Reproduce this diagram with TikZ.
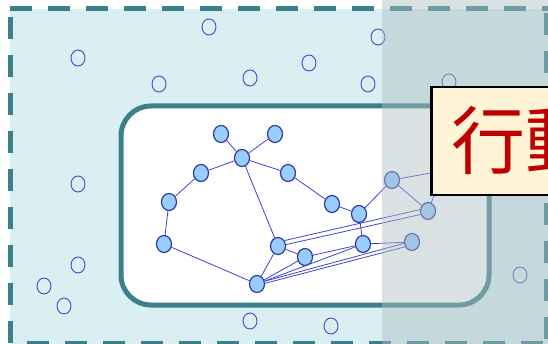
\documentclass[tikz,border=0pt]{standalone}
\usepackage{fontspec}
\newfontfamily\cjk{Noto Sans CJK JP}
\usepackage{tikz}
\usetikzlibrary{shapes.geometric}

\definecolor{frame}{HTML}{3A8189}
\definecolor{zone}{HTML}{DAEFF2}
\definecolor{ring}{HTML}{4646CC}
\definecolor{vfill}{HTML}{99CCFF}
\definecolor{vline}{HTML}{2C3A9E}
\definecolor{linkblue}{HTML}{4242D2}
\definecolor{veil}{RGB}{174,190,194}
\definecolor{note}{HTML}{FFF5D6}
\definecolor{notered}{HTML}{C00000}

\tikzset{
  hollow/.style={ellipse, draw=ring, line width=0.9pt,
    minimum width=14pt, minimum height=16pt, inner sep=0pt},
  vert/.style={ellipse, draw=vline, fill=vfill, line width=1.2pt,
    minimum width=15pt, minimum height=17pt, inner sep=0pt},
  link/.style={draw=linkblue, line width=0.8pt},
  border/.style={draw=frame, line width=5pt, dash pattern=on 22pt off 16pt},
}

\begin{document}
\begin{tikzpicture}[x=1pt, y=-1pt]

\clip (0,0) rectangle (548,344);
\fill[white] (0,0) rectangle (548,344);

% outer zone
\fill[zone] (10,9) rectangle (548,344);
\draw[border] (10,9) -- (548,9);
\draw[border] (10,17) -- (10,344);
\draw[border] (546,13) -- (546,344);
\draw[border] (27,343.5) -- (548,343.5);

\node[hollow] (c1) at (209,27) {};
\node[hollow] (c2) at (78,58) {};
\node[hollow] (c3) at (378,37) {};
\node[hollow] (c4) at (159,84) {};
\node[hollow] (c5) at (250,78) {};
\node[hollow] (c6) at (309,63) {};
\node[hollow] (c7) at (368,84) {};
\node[hollow] (c8) at (449,82) {};
\node[hollow] (c9) at (78,184) {};
\node[hollow] (c10) at (78,265) {};
\node[hollow] (c11) at (44,286) {};
\node[hollow] (c12) at (64,306) {};
\node[hollow] (c13) at (250,321) {};
\node[hollow] (c14) at (331,326) {};
\node[hollow] (c15) at (520,275) {};

% inner zone
\draw[frame, line width=5pt, fill=white, rounded corners=30pt]
  (121,106) rectangle (489,305);

% the network
\coordinate (h1) at (470,166);
\coordinate (h2) at (437,188);

\node[vert] (v1) at (221,134) {};
\node[vert] (v2) at (275,134) {};
\node[vert] (v3) at (242,158) {};
\node[vert] (v4) at (201,173) {};
\node[vert] (v5) at (288,173) {};
\node[vert] (v6) at (169,202) {};
\node[vert] (v7) at (164,244) {};
\node[vert] (v8) at (278,246) {};
\node[vert] (v9) at (257,284) {};
\node[vert] (v10) at (332,204) {};
\node[vert] (v11) at (359,214) {};
\node[vert] (v12) at (392,180) {};
\node[vert] (v13) at (428,211) {};
\node[vert] (v14) at (363,244) {};
\node[vert] (v15) at (412,242) {};
\node[vert] (v16) at (305,257) {};

\draw[link] (v1) -- (v3);
\draw[link] (v2) -- (v3);
\draw[link] (v3) -- (v4);
\draw[link] (v3) -- (v5);
\draw[link] (v4) -- (v6);
\draw[link] (v6) -- (v7);
\draw[link] (v7) -- (v9);
\draw[link] (v3) -- (v8);
\draw[link] (v8) -- (v9);
\draw[link] (v5) -- (v10);
\draw[link] (v10) -- (v11);
\draw[link] (v11) -- (v12);
\draw[link] (v11) -- (v14);
\draw[link] (v12) -- (v13);
\draw[link] (v12) -- (h1);
\draw[link] (v13) -- (h2);
\draw[link] (v8.40) -- (v13.170);
\draw[link] (v8.10) -- (v13.205);
\draw[link] (v8) -- (v16);
\draw[link] (v9) -- (v16);
\draw[link] (v9) -- (v14);
\draw[link] (v9.20) -- (v15.190);
\draw[link] (v9.5) -- (v15.215);
\draw[link] (v16) -- (v14);
\draw[link] (v14) -- (v15);

% dimmed right part
\fill[veil, fill opacity=0.46] (382,0) rectangle (548,344);

\node[draw=black, line width=2.5pt, fill=note, text=notered,
  font=\cjk\fontsize{74}{74}\selectfont, anchor=west,
  minimum height=108pt, inner xsep=20pt] (tag) at (430,141) {行動};

\end{tikzpicture}
\end{document}
